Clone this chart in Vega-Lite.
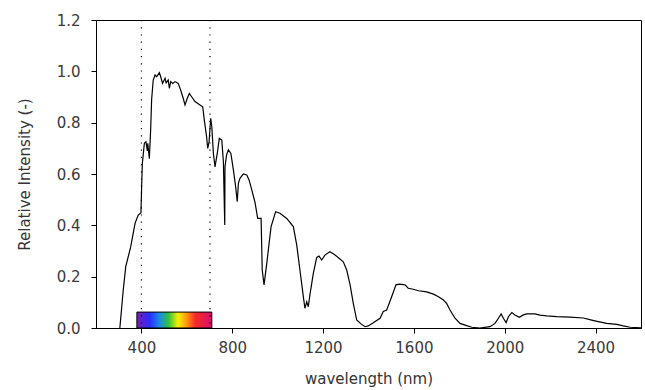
{
  "$schema": "https://vega.github.io/schema/vega-lite/v6.json",
  "width": 545,
  "height": 308,
  "autosize": {"type": "none"},
  "padding": {"left": 96, "top": 20, "right": 4, "bottom": 62},
  "background": "white",
  "config": {
    "view": {"stroke": "black", "strokeWidth": 1},
    "axis": {
      "grid": false,
      "domainColor": "black",
      "tickColor": "black",
      "tickSize": 5,
      "labelFont": "DejaVu Sans",
      "labelFontSize": 15,
      "labelColor": "#3a3a3a",
      "titleFont": "DejaVu Sans",
      "titleFontSize": 15,
      "titleFontWeight": "normal",
      "titleColor": "#333"
    }
  },
  "datasets": {
    "spectrum": [
      {"wavelength": 305, "intensity": 0},
      {"wavelength": 320, "intensity": 0.148},
      {"wavelength": 331, "intensity": 0.239},
      {"wavelength": 342, "intensity": 0.278},
      {"wavelength": 353, "intensity": 0.317},
      {"wavelength": 372, "intensity": 0.408},
      {"wavelength": 386, "intensity": 0.44},
      {"wavelength": 398, "intensity": 0.449},
      {"wavelength": 401, "intensity": 0.55},
      {"wavelength": 404, "intensity": 0.64},
      {"wavelength": 413, "intensity": 0.72},
      {"wavelength": 420, "intensity": 0.726},
      {"wavelength": 426, "intensity": 0.69},
      {"wavelength": 428, "intensity": 0.72},
      {"wavelength": 435, "intensity": 0.66},
      {"wavelength": 441, "intensity": 0.78},
      {"wavelength": 445, "intensity": 0.89},
      {"wavelength": 452, "intensity": 0.966},
      {"wavelength": 460, "intensity": 0.986},
      {"wavelength": 467, "intensity": 0.979},
      {"wavelength": 479, "intensity": 0.995},
      {"wavelength": 485, "intensity": 0.979},
      {"wavelength": 493, "intensity": 0.953},
      {"wavelength": 504, "intensity": 0.973},
      {"wavelength": 509, "intensity": 0.955},
      {"wavelength": 518, "intensity": 0.966},
      {"wavelength": 523, "intensity": 0.934},
      {"wavelength": 529, "intensity": 0.96},
      {"wavelength": 538, "intensity": 0.953},
      {"wavelength": 548, "intensity": 0.96},
      {"wavelength": 562, "intensity": 0.953},
      {"wavelength": 573, "intensity": 0.927},
      {"wavelength": 584, "intensity": 0.895},
      {"wavelength": 592, "intensity": 0.869},
      {"wavelength": 602, "intensity": 0.895},
      {"wavelength": 611, "intensity": 0.914},
      {"wavelength": 621, "intensity": 0.901},
      {"wavelength": 636, "intensity": 0.882},
      {"wavelength": 658, "intensity": 0.869},
      {"wavelength": 670, "intensity": 0.862},
      {"wavelength": 677, "intensity": 0.81},
      {"wavelength": 687, "intensity": 0.745},
      {"wavelength": 692, "intensity": 0.7},
      {"wavelength": 698, "intensity": 0.726},
      {"wavelength": 705, "intensity": 0.817},
      {"wavelength": 710, "intensity": 0.784},
      {"wavelength": 717, "intensity": 0.68},
      {"wavelength": 724, "intensity": 0.628},
      {"wavelength": 734, "intensity": 0.68},
      {"wavelength": 743, "intensity": 0.739},
      {"wavelength": 754, "intensity": 0.732},
      {"wavelength": 761, "intensity": 0.648},
      {"wavelength": 765, "intensity": 0.479},
      {"wavelength": 767, "intensity": 0.401},
      {"wavelength": 768, "intensity": 0.628},
      {"wavelength": 775, "intensity": 0.674},
      {"wavelength": 783, "intensity": 0.694},
      {"wavelength": 794, "intensity": 0.68},
      {"wavelength": 805, "intensity": 0.616},
      {"wavelength": 815, "intensity": 0.55},
      {"wavelength": 822, "intensity": 0.492},
      {"wavelength": 827, "intensity": 0.564},
      {"wavelength": 834, "intensity": 0.583},
      {"wavelength": 849, "intensity": 0.6},
      {"wavelength": 864, "intensity": 0.596},
      {"wavelength": 874, "intensity": 0.577},
      {"wavelength": 886, "intensity": 0.538},
      {"wavelength": 900, "intensity": 0.49},
      {"wavelength": 912, "intensity": 0.427},
      {"wavelength": 927, "intensity": 0.427},
      {"wavelength": 932, "intensity": 0.226},
      {"wavelength": 940, "intensity": 0.168},
      {"wavelength": 952, "intensity": 0.252},
      {"wavelength": 971, "intensity": 0.395},
      {"wavelength": 991, "intensity": 0.453},
      {"wavelength": 1010, "intensity": 0.447},
      {"wavelength": 1040, "intensity": 0.427},
      {"wavelength": 1069, "intensity": 0.395},
      {"wavelength": 1084, "intensity": 0.323},
      {"wavelength": 1098, "intensity": 0.226},
      {"wavelength": 1113, "intensity": 0.122},
      {"wavelength": 1120, "intensity": 0.077},
      {"wavelength": 1128, "intensity": 0.102},
      {"wavelength": 1135, "intensity": 0.083},
      {"wavelength": 1142, "intensity": 0.129},
      {"wavelength": 1157, "intensity": 0.213},
      {"wavelength": 1172, "intensity": 0.275},
      {"wavelength": 1182, "intensity": 0.28},
      {"wavelength": 1194, "intensity": 0.265},
      {"wavelength": 1208, "intensity": 0.284},
      {"wavelength": 1230, "intensity": 0.297},
      {"wavelength": 1253, "intensity": 0.284},
      {"wavelength": 1289, "intensity": 0.258},
      {"wavelength": 1304, "intensity": 0.226},
      {"wavelength": 1319, "intensity": 0.168},
      {"wavelength": 1333, "intensity": 0.096},
      {"wavelength": 1348, "intensity": 0.031},
      {"wavelength": 1367, "intensity": 0.016},
      {"wavelength": 1385, "intensity": 0.005},
      {"wavelength": 1399, "intensity": 0.008},
      {"wavelength": 1421, "intensity": 0.02},
      {"wavelength": 1451, "intensity": 0.038},
      {"wavelength": 1465, "intensity": 0.064},
      {"wavelength": 1480, "intensity": 0.07},
      {"wavelength": 1502, "intensity": 0.122},
      {"wavelength": 1521, "intensity": 0.168},
      {"wavelength": 1536, "intensity": 0.171},
      {"wavelength": 1561, "intensity": 0.168},
      {"wavelength": 1575, "intensity": 0.155},
      {"wavelength": 1597, "intensity": 0.151},
      {"wavelength": 1620, "intensity": 0.145},
      {"wavelength": 1656, "intensity": 0.141},
      {"wavelength": 1686, "intensity": 0.132},
      {"wavelength": 1708, "intensity": 0.122},
      {"wavelength": 1730, "intensity": 0.109},
      {"wavelength": 1744, "intensity": 0.096},
      {"wavelength": 1759, "intensity": 0.07},
      {"wavelength": 1781, "intensity": 0.038},
      {"wavelength": 1803, "intensity": 0.018},
      {"wavelength": 1832, "intensity": 0.009},
      {"wavelength": 1855, "intensity": 0.003},
      {"wavelength": 1891, "intensity": 0},
      {"wavelength": 1935, "intensity": 0.005},
      {"wavelength": 1957, "intensity": 0.018},
      {"wavelength": 1972, "intensity": 0.038},
      {"wavelength": 1984, "intensity": 0.055},
      {"wavelength": 1994, "intensity": 0.038},
      {"wavelength": 2006, "intensity": 0.021},
      {"wavelength": 2016, "intensity": 0.044},
      {"wavelength": 2031, "intensity": 0.06},
      {"wavelength": 2045, "intensity": 0.051},
      {"wavelength": 2064, "intensity": 0.042},
      {"wavelength": 2082, "intensity": 0.051},
      {"wavelength": 2097, "intensity": 0.055},
      {"wavelength": 2133, "intensity": 0.055},
      {"wavelength": 2155, "intensity": 0.05},
      {"wavelength": 2185, "intensity": 0.047},
      {"wavelength": 2229, "intensity": 0.044},
      {"wavelength": 2288, "intensity": 0.042},
      {"wavelength": 2346, "intensity": 0.039},
      {"wavelength": 2383, "intensity": 0.031},
      {"wavelength": 2412, "intensity": 0.025},
      {"wavelength": 2449, "intensity": 0.018},
      {"wavelength": 2493, "intensity": 0.014},
      {"wavelength": 2522, "intensity": 0.008},
      {"wavelength": 2552, "intensity": 0.003},
      {"wavelength": 2600, "intensity": 0.001}
    ],
    "visible": [
      {"start": 380, "end": 710, "low": 0, "high": 0.062}
    ],
    "bounds": [
      {"wavelength": 400},
      {"wavelength": 702}
    ]
  },
  "layer": [
    {
      "data": {"name": "visible"},
      "mark": {
        "type": "rect",
        "stroke": "black",
        "strokeWidth": 1,
        "fill": {
          "x1": 0, "y1": 0, "x2": 1, "y2": 0,
          "gradient": "linear",
          "stops": [
            {"offset": 0, "color": "#7a1fb0"},
            {"offset": 0.17, "color": "#2a2cff"},
            {"offset": 0.3, "color": "#1a8ae8"},
            {"offset": 0.42, "color": "#30c040"},
            {"offset": 0.55, "color": "#f5f000"},
            {"offset": 0.66, "color": "#ff9a10"},
            {"offset": 0.78, "color": "#f52a2a"},
            {"offset": 1, "color": "#d8106a"}
          ]
        }
      },
      "encoding": {
        "x": {"field": "start", "type": "quantitative", "scale": {"domain": [200, 2600], "nice": false}},
        "x2": {"field": "end"},
        "y": {"field": "low", "type": "quantitative", "scale": {"domain": [0, 1.2], "nice": false}},
        "y2": {"field": "high"}
      }
    },
    {
      "data": {"name": "bounds"},
      "mark": {"type": "rule", "color": "black", "strokeWidth": 1.2, "strokeDash": [1.2, 6]},
      "encoding": {
        "x": {"field": "wavelength", "type": "quantitative"}
      }
    },
    {
      "data": {"name": "spectrum"},
      "mark": {"type": "line", "color": "black", "strokeWidth": 1.2, "clip": true},
      "encoding": {
        "x": {
          "field": "wavelength",
          "type": "quantitative",
          "scale": {"domain": [200, 2600], "nice": false},
          "axis": {
            "title": "wavelength (nm)",
            "values": [400, 800, 1200, 1600, 2000, 2400],
            "format": "d",
            "labelPadding": 7,
            "titlePadding": 16
          }
        },
        "y": {
          "field": "intensity",
          "type": "quantitative",
          "scale": {"domain": [0, 1.2], "nice": false},
          "axis": {
            "title": "Relative Intensity (-)",
            "values": [0, 0.2, 0.4, 0.6, 0.8, 1.0, 1.2],
            "format": ".1f",
            "labelPadding": 11,
            "titlePadding": 24
          }
        }
      }
    }
  ]
}
